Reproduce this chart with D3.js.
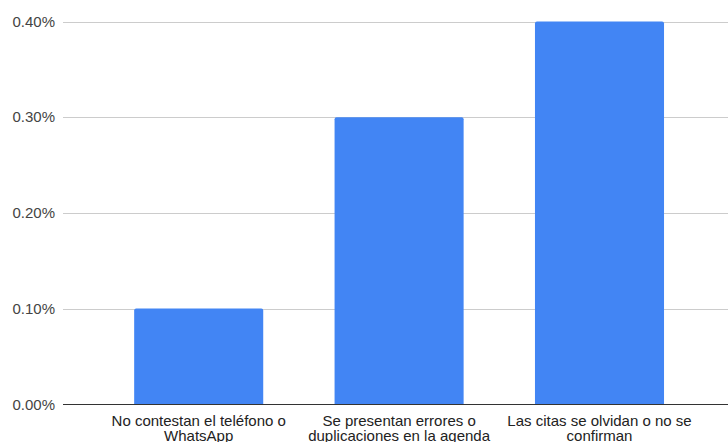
<!DOCTYPE html>
<html><head><meta charset="utf-8">
<script src="https://cdn.jsdelivr.net/npm/d3@7"></script>
<style>html,body{margin:0;padding:0;background:#fff;}svg{display:block;}</style>
</head><body>
<svg id="c" width="728" height="442"></svg>
<script>
const categories = [
  ["No contestan el teléfono o", "WhatsApp"],
  ["Se presentan errores o", "duplicaciones en la agenda"],
  ["Las citas se olvidan o no se", "confirman"]
];
const values = [0.001, 0.003, 0.004];
const yTicks = [0, 0.001, 0.002, 0.003, 0.004];

const svg = d3.select("#c");
const font = "Arial, 'Liberation Sans', sans-serif";
const x = d3.scaleBand().domain(d3.range(categories.length))
  .range([98.5, 699.7]).paddingInner(0.356).paddingOuter(0.178);
const y = d3.scaleLinear().domain([0, 0.004]).range([404.3, 21.5]);
const fmt = d3.format(".2%");

// grid
svg.append("g").selectAll("line").data(yTicks.filter(d => d > 0)).join("line")
  .attr("x1", 63).attr("x2", 728)
  .attr("y1", d => Math.round(y(d)) + 0.5).attr("y2", d => Math.round(y(d)) + 0.5)
  .attr("stroke", "#cccccc").attr("stroke-width", 1);

// y labels
svg.append("g").selectAll("text").data(yTicks).join("text")
  .attr("x", 55).attr("y", d => y(d)).attr("dy", "0.35em")
  .attr("text-anchor", "end").attr("font-family", font).attr("font-size", 15)
  .attr("fill", "#444").text(d => fmt(d));

// bars
svg.append("g").selectAll("path").data(values).join("path")
  .attr("fill", "#4285f4")
  .attr("d", (d, i) => {
    const x0 = x(i), w = x.bandwidth(), y0 = y(d), y1 = y(0), r = 2;
    return `M${x0},${y1}V${y0 + r}Q${x0},${y0} ${x0 + r},${y0}H${x0 + w - r}Q${x0 + w},${y0} ${x0 + w},${y0 + r}V${y1}Z`;
  });

// baseline
svg.append("line").attr("x1", 63).attr("x2", 728)
  .attr("y1", 404.5).attr("y2", 404.5).attr("stroke", "#333").attr("stroke-width", 1);

// category labels
const lab = svg.append("g").selectAll("text").data(categories).join("text")
  .attr("text-anchor", "middle").attr("font-family", font).attr("font-size", 15)
  .attr("fill", "#222");
lab.each(function(d, i) {
  const t = d3.select(this);
  d.forEach((line, j) => {
    t.append("tspan").attr("x", x(i) + x.bandwidth() / 2).attr("y", 426 + j * 15).text(line);
  });
});
</script>
</body></html>
